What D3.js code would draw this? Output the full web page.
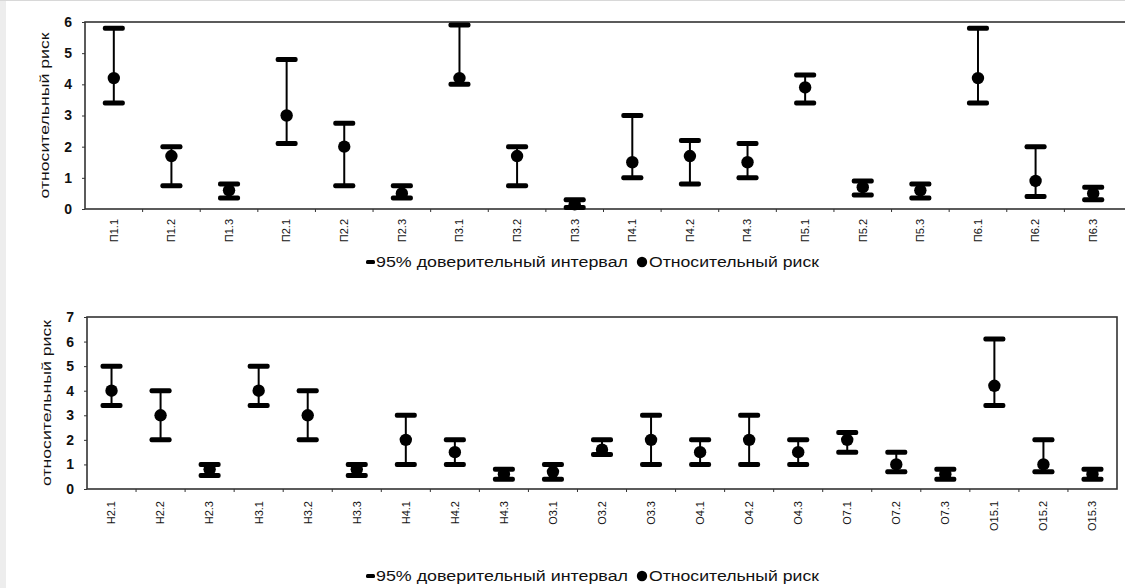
<!doctype html>
<meta charset="utf-8">
<script src="https://d3js.org/d3.v7.min.js"></script>
<style>
  body { margin:0; background:#fff; }
  text { font-family: "Liberation Sans", Arial, sans-serif; fill:#111; }
</style>
<body>
</body>
<script>
// ---- data: top panel ----
var catsTop = ["П1.1","П1.2","П1.3","П2.1","П2.2","П2.3","П3.1","П3.2","П3.3",
               "П4.1","П4.2","П4.3","П5.1","П5.2","П5.3","П6.1","П6.2","П6.3"];
var riskTop  = [4.2, 1.7, 0.6, 3.0, 2.0, 0.5, 4.2, 1.7, 0.15, 1.5, 1.7, 1.5, 3.9, 0.7, 0.6, 4.2, 0.9, 0.5];
var lowTop   = [3.4, 0.75, 0.35, 2.1, 0.75, 0.35, 4.0, 0.75, 0.05, 1.0, 0.8, 1.0, 3.4, 0.45, 0.35, 3.4, 0.4, 0.3];
var highTop  = [5.8, 2.0, 0.8, 4.8, 2.75, 0.75, 5.9, 2.0, 0.3, 3.0, 2.2, 2.1, 4.3, 0.9, 0.8, 5.8, 2.0, 0.7];
var ticksTop = [0,1,2,3,4,5,6];

// ---- data: bottom panel ----
var catsBot = ["Н2.1","Н2.2","Н2.3","Н3.1","Н3.2","Н3.3","Н4.1","Н4.2","Н4.3","О3.1","О3.2",
               "О3.3","О4.1","О4.2","О4.3","О7.1","О7.2","О7.3","О15.1","О15.2","О15.3"];
var riskBot  = [4.0, 3.0, 0.8, 4.0, 3.0, 0.8, 2.0, 1.5, 0.6, 0.7, 1.6, 2.0, 1.5, 2.0, 1.5, 2.0, 1.0, 0.6, 4.2, 1.0, 0.6];
var lowBot   = [3.4, 2.0, 0.55, 3.4, 2.0, 0.55, 1.0, 1.0, 0.4, 0.4, 1.4, 1.0, 1.0, 1.0, 1.0, 1.5, 0.7, 0.4, 3.4, 0.7, 0.4];
var highBot  = [5.0, 4.0, 1.0, 5.0, 4.0, 1.0, 3.0, 2.0, 0.8, 1.0, 2.0, 3.0, 2.0, 3.0, 2.0, 2.3, 1.5, 0.8, 6.1, 2.0, 0.8];
var ticksBot = [0,1,2,3,4,5,6,7];

var yTitle = "относительный риск";
var legendCI = "95% доверительный интервал";
var legendRR = "Относительный риск";

var svg = d3.select("body").append("svg").attr("width",1125).attr("height",588);
svg.append("rect").attr("width",1125).attr("height",588).attr("fill","#fff");
// scanned page edge
svg.append("rect").attr("x",0).attr("y",0).attr("width",6).attr("height",588).attr("fill","#ededed");
svg.append("rect").attr("x",0).attr("y",0).attr("width",1125).attr("height",1).attr("fill","#d8d8d8");

function panel(cfg){
    var x = d3.scaleBand().domain(cfg.cats).range([cfg.left, cfg.right]);
    var y = d3.scaleLinear().domain([0, cfg.ymax]).range([cfg.bottom, cfg.top]);
    var g = svg.append("g");

    // frame
    g.append("rect")
        .attr("x",cfg.left).attr("y",cfg.top)
        .attr("width",cfg.frameRight-cfg.left).attr("height",cfg.bottom-cfg.top)
        .attr("fill","none").attr("stroke","#333").attr("stroke-width",1.6);

    // y axis
    var ya = g.append("g").attr("transform","translate("+cfg.left+",0)")
        .call(d3.axisLeft(y).tickValues(cfg.ticks).tickSize(3).tickPadding(10).tickFormat(d3.format("d")));
    ya.select(".domain").remove();
    ya.selectAll("line").attr("stroke","#333");
    ya.selectAll("text").style("font-size","14px").style("font-weight","bold").attr("fill","#111");

    // x axis
    var xa = g.append("g").attr("transform","translate(0,"+cfg.bottom+")")
        .call(d3.axisBottom(x).tickSize(0).tickPadding(0));
    xa.select(".domain").remove();
    xa.selectAll("text")
        .style("font-size","11px")
        .attr("text-anchor","end")
        .attr("dy","0.35em")
        .attr("transform","translate(0,"+cfg.labelGap+") rotate(-90)");
    // small ticks between categories
    g.selectAll(".btick").data(cfg.cats.slice(1)).enter().append("line")
        .attr("x1",function(d){ return x(d); }).attr("x2",function(d){ return x(d); })
        .attr("y1",cfg.bottom).attr("y2",cfg.bottom+3)
        .attr("stroke","#333").attr("stroke-width",1);

    // y title
    g.append("text")
        .attr("transform","translate("+(cfg.left-40)+","+((cfg.top+cfg.bottom)/2)+") rotate(-90)")
        .attr("text-anchor","middle")
        .attr("dy","0.35em")
        .attr("textLength",cfg.titleLen).attr("lengthAdjust","spacingAndGlyphs")
        .style("font-size","12.5px")
        .text(yTitle);

    var data = cfg.cats.map(function(c,i){
        return {c:c, r:cfg.risk[i], lo:cfg.low[i], hi:cfg.high[i]};
    });
    var bars = g.selectAll(".bar").data(data).enter().append("g");
    var cx = function(d){ return x(d.c) + x.bandwidth()/2; };
    bars.append("line")
        .attr("x1",cx).attr("x2",cx)
        .attr("y1",function(d){ return y(d.lo); })
        .attr("y2",function(d){ return y(d.hi); })
        .attr("stroke","#000").attr("stroke-width",2);
    ["hi","lo"].forEach(function(k){
        bars.append("rect")
            .attr("x",function(d){ return cx(d)-11; })
            .attr("y",function(d){ return y(d[k])-2.5; })
            .attr("width",22).attr("height",5).attr("rx",2)
            .attr("fill","#000");
    });
    bars.append("circle")
        .attr("cx",cx).attr("cy",function(d){ return y(d.r); })
        .attr("r",6.2).attr("fill","#000");

    // legend
    var lg = g.append("g").attr("transform","translate("+cfg.legendX+","+cfg.legendY+")");
    lg.append("rect").attr("x",0).attr("y",-2).attr("width",9).attr("height",4).attr("rx",1.5).attr("fill","#000");
    lg.append("text").attr("x",10).attr("y",0).attr("dy","0.35em")
        .attr("textLength",252).attr("lengthAdjust","spacingAndGlyphs")
        .style("font-size","14px").text(legendCI);
    lg.append("circle").attr("cx",276).attr("cy",0).attr("r",5.2).attr("fill","#000");
    lg.append("text").attr("x",283).attr("y",0).attr("dy","0.35em")
        .attr("textLength",170).attr("lengthAdjust","spacingAndGlyphs")
        .style("font-size","14px").text(legendRR);
}

panel({cats:catsTop, risk:riskTop, low:lowTop, high:highTop, ticks:ticksTop, ymax:6,
       left:85, right:1122, frameRight:1130, top:22, bottom:209, labelGap:10, titleLen:166,
       legendX:366, legendY:262});
panel({cats:catsBot, risk:riskBot, low:lowBot, high:highBot, ticks:ticksBot, ymax:7,
       left:87, right:1117, frameRight:1117, top:317, bottom:489, labelGap:12, titleLen:166,
       legendX:366, legendY:576});
</script>
